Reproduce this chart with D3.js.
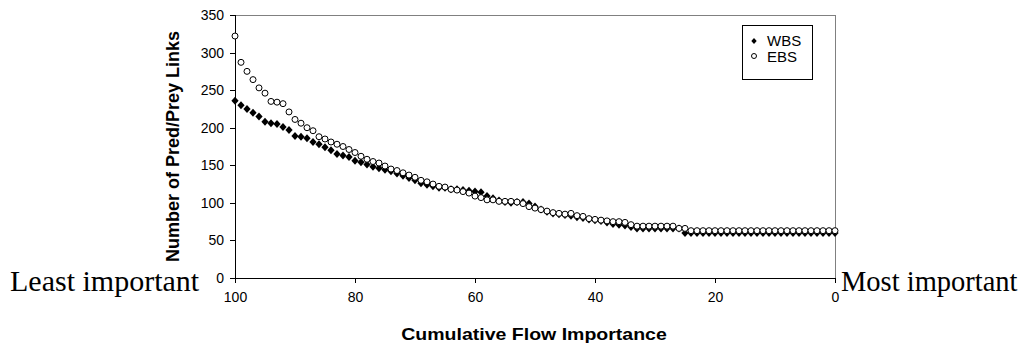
<!DOCTYPE html>
<html>
<head>
<meta charset="utf-8">
<script src="https://cdn.jsdelivr.net/npm/d3@7"></script>
<style>
  html, body { margin: 0; padding: 0; background: #fff; }
  svg { display: block; }
</style>
</head>
<body>
<svg id="chart" width="1021" height="347"></svg>
<script>
// Cumulative flow importance, stepping from 100 down to 0
const importance = d3.range(100, -1, -1);

// Number of predator/prey links retained, WBS food web (importance 100 -> 0)
const wbsLinks = [
  236, 230, 225, 220, 215, 208, 206, 205, 201, 197,
  189, 188, 186, 181, 178, 174, 170, 165, 163, 161,
  156, 154, 151, 148, 146, 144, 142, 139, 136, 133,
  130, 126, 124, 122, 120, 120, 118, 118, 117, 116,
  115, 114, 109, 106, 103, 101, 100, 101, 101, 99,
  95, 91, 88, 86, 85, 84, 83, 81, 80, 78,
  77, 76, 74, 72, 71, 70, 68, 66, 66, 66,
  66, 66, 66, 66, 66, 60, 60, 60, 60, 60,
  60, 60, 60, 60, 60, 60, 60, 60, 60, 60,
  60, 60, 60, 60, 60, 60, 60, 60, 60, 60,
  60
];

// Number of predator/prey links retained, EBS food web (importance 100 -> 0)
const ebsLinks = [
  322, 287, 275, 264, 253, 246, 235, 234, 232, 221,
  211, 206, 200, 196, 188, 185, 181, 178, 175, 171,
  167, 162, 158, 155, 153, 149, 145, 143, 140, 137,
  134, 130, 128, 125, 122, 121, 118, 117, 115, 113,
  109, 107, 104, 104, 102, 102, 102, 101, 99, 95,
  93, 91, 89, 87, 86, 85, 86, 83, 82, 79,
  78, 77, 76, 75, 75, 74, 71, 69, 69, 69,
  69, 69, 69, 69, 66, 66, 63, 63, 63, 63,
  63, 63, 63, 63, 63, 63, 63, 63, 63, 63,
  63, 63, 63, 63, 63, 63, 63, 63, 63, 63,
  63
];

const xTicks = [100, 80, 60, 40, 20, 0];
const yTicks = [0, 50, 100, 150, 200, 250, 300, 350];
const seriesNames = ["WBS", "EBS"];
const xTitle = "Cumulative Flow Importance";
const yTitle = "Number of Pred/Prey Links";
const leftNote = "Least important";
const rightNote = "Most important";

const svg = d3.select("#chart");
const sans = "Arial, 'Liberation Sans', Helvetica, sans-serif";
const serif = "'Times New Roman', 'Liberation Serif', serif";

const x = d3.scaleLinear().domain([100, 0]).range([235, 835]);
const y = d3.scaleLinear().domain([0, 350]).range([278, 15]);

// plot frame: grey on top and right
svg.append("path")
  .attr("d", `M${x(100)},${y(350)}H${x(0)}V${y(0)}`)
  .attr("fill", "none")
  .attr("stroke", "#808080")
  .attr("stroke-width", 1)
  .attr("shape-rendering", "crispEdges");

// axes
const yAxis = d3.axisLeft(y).tickValues(yTicks).tickSize(5).tickPadding(6);
const xAxis = d3.axisBottom(x).tickValues(xTicks).tickSize(5).tickPadding(9);

const gy = svg.append("g").attr("transform", `translate(${x(100)},0)`).call(yAxis);
const gx = svg.append("g").attr("transform", `translate(0,${y(0)})`).call(xAxis);

[gx, gy].forEach(g => {
  g.selectAll("path, line").attr("stroke", "#000").attr("shape-rendering", "crispEdges");
  g.selectAll("text").attr("font-family", sans).attr("font-size", 14).attr("fill", "#000");
});

// axis titles (x title is set slightly wide)
svg.append("text")
  .attr("transform", `translate(${(x(100) + x(0)) / 2 - 1},340) scale(1.22,1)`)
  .attr("text-anchor", "middle")
  .attr("font-family", sans)
  .attr("font-weight", "bold")
  .attr("font-size", 16)
  .text(xTitle);

svg.append("text")
  .attr("transform", `translate(179,${(y(0) + y(350)) / 2}) rotate(-90)`)
  .attr("text-anchor", "middle")
  .attr("font-family", sans)
  .attr("font-weight", "bold")
  .attr("font-size", 18)
  .text(yTitle);

// end annotations
svg.append("text")
  .attr("x", 10).attr("y", 291)
  .attr("font-family", serif).attr("font-size", 30)
  .text(leftNote);

svg.append("text")
  .attr("x", 841).attr("y", 291)
  .attr("font-family", serif).attr("font-size", 28.5)
  .text(rightNote);

// markers
const diamond = s => `M0,${-s}L${s * 0.9},0L0,${s}L${-s * 0.9},0Z`;

svg.append("g").selectAll("path")
  .data(importance.map((v, i) => ({ v, n: wbsLinks[i] })))
  .join("path")
  .attr("transform", d => `translate(${x(d.v)},${y(d.n)})`)
  .attr("d", diamond(4))
  .attr("fill", "#000");

svg.append("g").selectAll("circle")
  .data(importance.map((v, i) => ({ v, n: ebsLinks[i] })))
  .join("circle")
  .attr("cx", d => x(d.v))
  .attr("cy", d => y(d.n))
  .attr("r", 3)
  .attr("fill", "#fff")
  .attr("stroke", "#000")
  .attr("stroke-width", 1);

// legend
const lg = svg.append("g");
lg.append("rect")
  .attr("x", 742.5).attr("y", 25.5).attr("width", 70).attr("height", 54)
  .attr("fill", "#fff").attr("stroke", "#000").attr("stroke-width", 1);

lg.append("path")
  .attr("transform", "translate(754,41)")
  .attr("d", diamond(3))
  .attr("fill", "#000");
lg.append("circle")
  .attr("cx", 754).attr("cy", 56).attr("r", 2.5)
  .attr("fill", "#fff").attr("stroke", "#000");

lg.selectAll("text")
  .data(seriesNames)
  .join("text")
  .attr("x", 767)
  .attr("y", (d, i) => 46 + i * 15.5)
  .attr("font-family", sans)
  .attr("font-size", 15)
  .text(d => d);
</script>
</body>
</html>
